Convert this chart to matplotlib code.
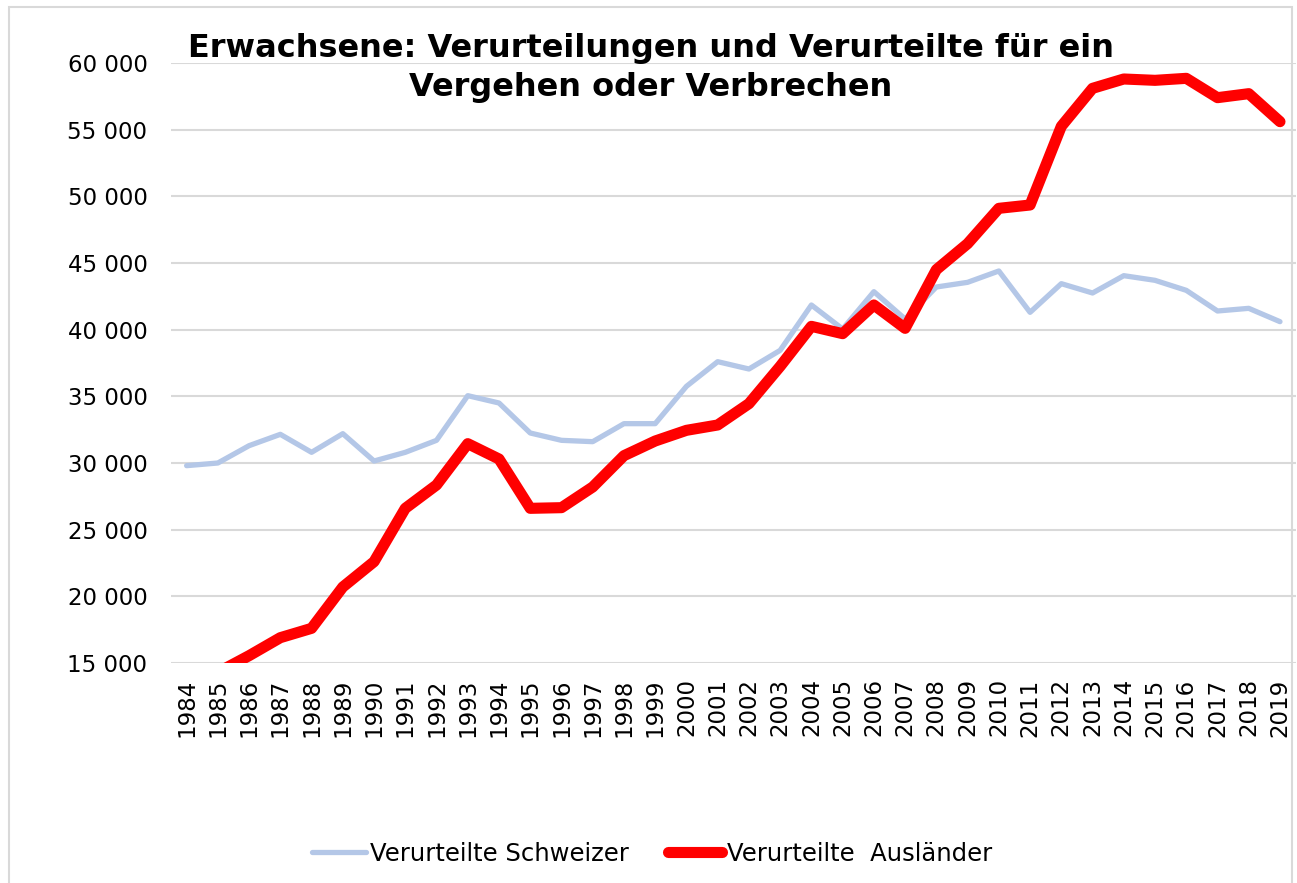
import matplotlib
matplotlib.use("Agg")
import matplotlib.pyplot as plt
from matplotlib.patches import Rectangle
from matplotlib.ticker import FuncFormatter

years = list(range(1984, 2020))
schweizer = [29800, 30000, 31300, 32150, 30800, 32200, 30150, 30800, 31700, 35050,
             34500, 32250, 31700, 31600, 32950, 32950, 35750, 37600, 37050, 38450,
             41850, 40050, 42850, 40800, 43200, 43550, 44400, 41300, 43450, 42750,
             44050, 43700, 42950, 41400, 41600, 40600]
auslaender = [13300, 14300, 15550, 16900, 17600, 20700, 22600, 26600, 28350, 31450,
              30300, 26600, 26650, 28200, 30550, 31650, 32450, 32850, 34450, 37250,
              40250, 39700, 41850, 40100, 44500, 46450, 49100, 49350, 55250, 58100,
              58800, 58700, 58850, 57400, 57700, 55600]
yticks = list(range(15000, 60001, 5000))
title = "Erwachsene: Verurteilungen und Verurteilte für ein\nVergehen oder Verbrechen"
labels = ["Verurteilte Schweizer", "Verurteilte  Ausländer"]

W, H = 1297, 883
fig = plt.figure(figsize=(W / 100, H / 100), dpi=100)
plt.rcParams['font.family'] = ['DejaVu Sans']

# figure border (bottom edge lies outside the picture)
fig.patches.append(Rectangle((9 / W, -0.05), (1292 - 9) / W, (H - 7) / H + 0.05,
                             transform=fig.transFigure, fill=False, edgecolor='#D9D9D9', lw=1.5))

left, right, top, bottom = 171, 1295.6, 63, 663
ax = fig.add_axes([left / W, 1 - bottom / H, (right - left) / W, (bottom - top) / H])
x = list(range(len(years)))
ax.plot(x, schweizer, color='#B4C7E7', lw=3.8, solid_capstyle='round', solid_joinstyle='round',
        label=labels[0], zorder=3)
ax.plot(x, auslaender, color='#FF0000', lw=8, solid_capstyle='round', solid_joinstyle='round',
        label=labels[1], zorder=4)
ax.set_xlim(-0.5, len(years) - 0.5)
ax.set_ylim(15000, 60000)
ax.set_yticks(yticks)
ax.yaxis.set_major_formatter(FuncFormatter(lambda v, p: f"{int(v):,}".replace(",", " ")))
ax.set_xticks(x)
ax.set_xticklabels([str(y) for y in years], rotation=90)
ax.tick_params(axis='both', length=0, labelsize=16.5)
ax.tick_params(axis='y', pad=17)
ax.tick_params(axis='x', pad=11)
for s in ax.spines.values():
    s.set_visible(False)
ax.grid(axis='y', color='#D9D9D9', lw=1.5, zorder=0)
ax.set_axisbelow(True)

fig.text(651 / W, 1 - 68 / H, title, ha='center', va='center', fontsize=23, fontweight='bold',
         linespacing=1.3)

fig.legend(loc='center', bbox_to_anchor=(652 / W, 1 - 854 / H), ncol=2, frameon=False,
           fontsize=17.5, handlelength=2.2, handletextpad=0.2, columnspacing=1.6)

fig.savefig("out.png", dpi=100)
